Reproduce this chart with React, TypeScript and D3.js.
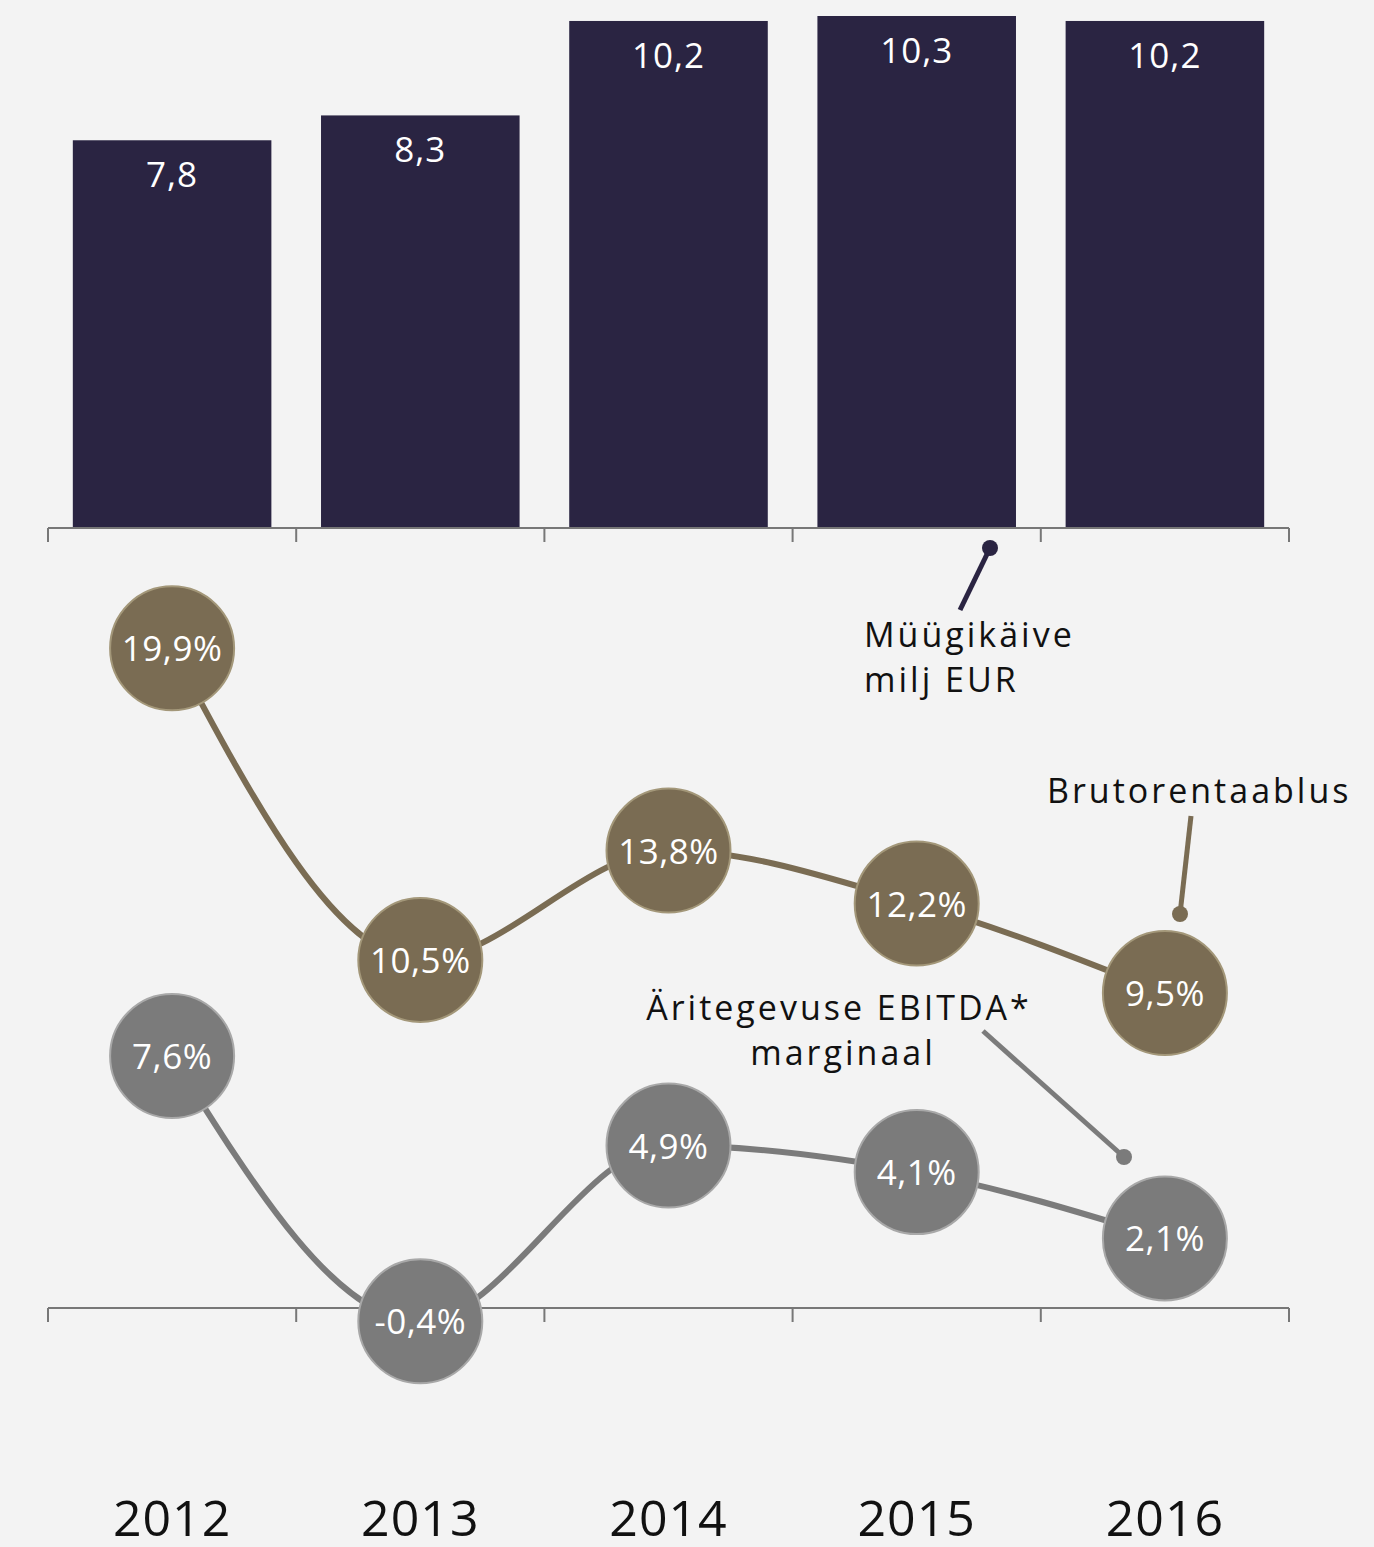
import React from "react";
import * as d3 from "d3";

const years = ["2012", "2013", "2014", "2015", "2016"];
const sales = [7.8, 8.3, 10.2, 10.3, 10.2];
const grossMargin = [19.9, 10.5, 13.8, 12.2, 9.5];
const ebitdaMargin = [7.6, -0.4, 4.9, 4.1, 2.1];

const W = 1374;
const H = 1547;
const FONT = "'Open Sans', Lato, sans-serif";
const BAR = "#2a2442";
const BRUTO = "#7a6c53";
const GREY = "#7b7b7b";

const fmt = (v: number) => String(v).replace(".", ",");

export default function App() {
  const x = d3.scaleBand<string>().domain(years).range([48, 1289]).paddingInner(0.2).paddingOuter(0.1);
  const step = x.step();
  const ticks = d3.range(years.length + 1).map((i) => 48 + i * step);
  const yBar = d3.scaleLinear().domain([0, 10.3]).range([528, 16]);
  const yPct = d3.scaleLinear().domain([0, 20]).range([1308, 645]);
  const cx = (y: string) => (x(y) as number) + x.bandwidth() / 2;

  const line = d3
    .line<[number, number]>()
    .x((d) => d[0])
    .y((d) => d[1])
    .curve(d3.curveMonotoneX);

  const brutoPts: [number, number][] = years.map((y, i) => [cx(y), yPct(grossMargin[i])]);
  const ebitdaPts: [number, number][] = years.map((y, i) => [cx(y), yPct(ebitdaMargin[i])]);

  const axis = (y0: number) => (
    <g>
      <line x1={48} x2={1289} y1={y0} y2={y0} stroke="#777" strokeWidth={2} />
      {ticks.map((t, i) => (
        <line key={i} x1={t} x2={t} y1={y0} y2={y0 + 14} stroke="#777" strokeWidth={2} />
      ))}
    </g>
  );

  const ann = { fontSize: 34, fill: "#111", letterSpacing: 3 } as const;

  return (
    <svg width={W} height={H} style={{ position: "absolute", left: 0, top: 0 }} fontFamily={FONT}>
      <rect width={W} height={H} fill="#f3f3f3" />
      {years.map((y, i) => (
        <g key={y}>
          <rect x={x(y)} y={yBar(sales[i])} width={x.bandwidth()} height={528 - yBar(sales[i])} fill={BAR} />
          <text x={cx(y)} y={yBar(sales[i]) + 47} textAnchor="middle" fill="#fff" fontSize={35} letterSpacing={1}>
            {fmt(sales[i])}
          </text>
        </g>
      ))}
      {axis(528)}
      {axis(1308)}

      {/* annotation: sales */}
      <line x1={990} y1={548} x2={960} y2={610} stroke={BAR} strokeWidth={5} />
      <circle cx={990} cy={548} r={8} fill={BAR} />
      <text x={864} y={647} {...ann}>Müügikäive</text>
      <text x={864} y={692} {...ann}>milj EUR</text>

      {/* annotation: gross */}
      <line x1={1191} y1={816} x2={1180} y2={914} stroke={BRUTO} strokeWidth={5} />
      <circle cx={1180} cy={914} r={8} fill={BRUTO} />
      <text x={1047} y={803} {...ann}>Brutorentaablus</text>

      {/* annotation: ebitda */}
      <line x1={983} y1={1031} x2={1124} y2={1157} stroke={GREY} strokeWidth={5} />
      <circle cx={1124} cy={1157} r={8} fill={GREY} />
      <text x={839} y={1020} {...ann} textAnchor="middle">Äritegevuse EBITDA*</text>
      <text x={843} y={1065} {...ann} textAnchor="middle">marginaal</text>

      <path d={line(brutoPts) || ""} fill="none" stroke={BRUTO} strokeWidth={6} />
      <path d={line(ebitdaPts) || ""} fill="none" stroke={GREY} strokeWidth={6} />

      {brutoPts.map((p, i) => (
        <g key={"b" + i}>
          <circle cx={p[0]} cy={p[1]} r={62} fill={BRUTO} stroke="#a39779" strokeWidth={2} />
          <text x={p[0]} y={p[1] + 13} textAnchor="middle" fill="#fff" fontSize={35} letterSpacing={0.5}>
            {fmt(grossMargin[i])}%
          </text>
        </g>
      ))}
      {ebitdaPts.map((p, i) => (
        <g key={"e" + i}>
          <circle cx={p[0]} cy={p[1]} r={62} fill={GREY} stroke="#a8a8a8" strokeWidth={2} />
          <text x={p[0]} y={p[1] + 13} textAnchor="middle" fill="#fff" fontSize={35} letterSpacing={0.5}>
            {fmt(ebitdaMargin[i])}%
          </text>
        </g>
      ))}

      {years.map((y) => (
        <text key={"y" + y} x={cx(y)} y={1536} textAnchor="middle" fontSize={50} fill="#111" letterSpacing={1}>
          {y}
        </text>
      ))}
    </svg>
  );
}
